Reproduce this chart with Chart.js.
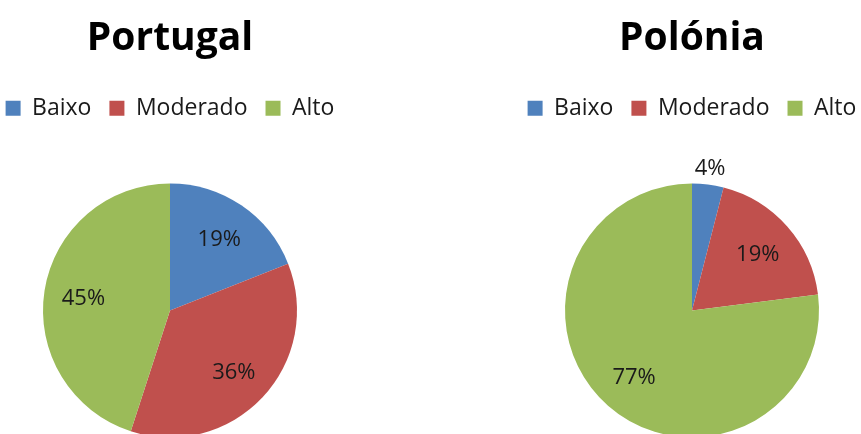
<!DOCTYPE html>
<html>
<head>
<meta charset="utf-8">
<script src="https://cdn.jsdelivr.net/npm/chart.js@4"></script>
<style>
  html, body { margin: 0; padding: 0; background: #fff; overflow: hidden; width: 861px; height: 434px; position: relative; }
  .box { position: absolute; top: 0; width: 410px; height: 491px; }
  #left { left: -35px; }
  #right { left: 487px; }
</style>
</head>
<body>
<div class="box" id="left"><canvas id="ptChart"></canvas></div>
<div class="box" id="right"><canvas id="plChart"></canvas></div>
<script>
const categories = ["Baixo", "Moderado", "Alto"];
const portugalValues = [19, 36, 45];
const poloniaValues = [4, 19, 77];
const sliceColors = ["#4F81BD", "#C0504D", "#9BBB59"];
const fontFamily = "'Open Sans', sans-serif";

// draws the "19%" style labels on each slice
const pctLabels = {
  id: "pctLabels",
  afterDatasetsDraw(chart) {
    const ctx = chart.ctx;
    const meta = chart.getDatasetMeta(0);
    const values = chart.data.datasets[0].data;
    ctx.save();
    ctx.font = "22px " + fontFamily;
    ctx.fillStyle = "#1a1a1a";
    ctx.textAlign = "center";
    ctx.textBaseline = "middle";
    meta.data.forEach((arc, i) => {
      const p = arc.getProps(["x", "y", "startAngle", "endAngle", "outerRadius"], true);
      const mid = (p.startAngle + p.endAngle) / 2;
      let r = p.outerRadius * 0.69;
      if (values[i] < 6) r = p.outerRadius + 18;
      ctx.fillText(values[i] + "%", p.x + Math.cos(mid) * r, p.y + 2 + Math.sin(mid) * r);
    });
    ctx.restore();
  },
};

function makePie(id, title, values) {
  return new Chart(document.getElementById(id), {
    type: "pie",
    data: {
      labels: categories,
      datasets: [
        {
          data: values,
          backgroundColor: sliceColors,
          borderWidth: 0,
          radius: 127,
        },
      ],
    },
    options: {
      responsive: true,
      maintainAspectRatio: false,
      animation: false,
      layout: { padding: { top: 15 } },
      plugins: {
        title: {
          display: true,
          text: title,
          color: "#000",
          font: { family: fontFamily, size: 39, weight: "bold" },
          padding: { top: 0, bottom: 17 },
        },
        legend: {
          position: "top",
          labels: {
            boxWidth: 15,
            boxHeight: 15,
            padding: 18,
            color: "#1a1a1a",
            font: { family: fontFamily, size: 23 },
          },
        },
        tooltip: { enabled: false },
      },
    },
    plugins: [pctLabels],
  });
}

makePie("ptChart", "Portugal", portugalValues);
makePie("plChart", "Polónia", poloniaValues);
</script>
</body>
</html>
